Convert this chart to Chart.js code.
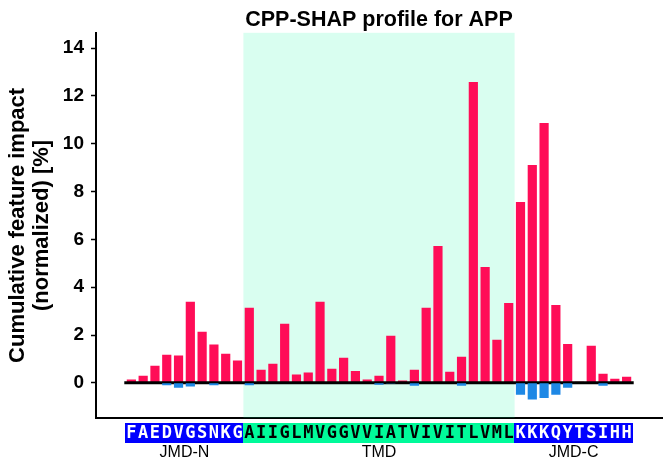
<!DOCTYPE html>
<html>
<head>
<meta charset="utf-8">
<script src="https://cdn.jsdelivr.net/npm/chart.js@4"></script>
<style>
  body { margin: 0; background: #fff; }
</style>
</head>
<body>
<canvas id="shapChart" width="671" height="471"></canvas>
<script>
// residues of APP (JMD-N / TMD / JMD-C)
var residues = "FAEDVGSNKGAIIGLMVGGVVIATVIVITLVMLKKKQYTSIHH".split("");
var regionNames = ["JMD-N", "TMD", "JMD-C"];
var regionLengths = [10, 23, 10];

// positive and negative feature impact per residue [%]
var posImpact = [0.14, 0.30, 0.72, 1.18, 1.14, 3.39, 2.14, 1.60, 1.22, 0.93,
  3.14, 0.55, 0.80, 2.47, 0.35, 0.43, 3.39, 0.59, 1.05, 0.50,
  0.14, 0.30, 1.97, 0.10, 0.55, 3.14, 5.72, 0.46, 1.09, 12.58,
  4.85, 1.80, 3.34,
  7.56, 9.11, 10.87, 3.26, 1.63, 0.05, 1.55, 0.38, 0.17, 0.25];
var negImpact = [0, 0, 0, -0.10, -0.20, -0.15, 0, -0.10, 0, 0,
  -0.10, 0, 0, 0, 0, 0, 0, 0, 0, 0,
  0, -0.08, -0.03, 0, -0.12, 0, 0, 0, -0.12, 0,
  0, 0, 0,
  -0.50, -0.70, -0.63, -0.50, -0.20, 0, 0, -0.12, 0, 0];

var yTicks = [0, 2, 4, 6, 8, 10, 12, 14];

var fontFamily = 'Arial, "Liberation Sans", sans-serif';

// TMD shading behind the bars
var tmdShade = {
  id: "tmdShade",
  beforeDatasetsDraw: function (chart) {
    var ctx = chart.ctx, x = chart.scales.x, area = chart.chartArea;
    var start = regionLengths[0] - 0.5;
    var end = start + regionLengths[1];
    ctx.save();
    ctx.fillStyle = "rgba(0, 250, 154, 0.15)";
    var x0 = x.getPixelForValue(start), x1 = x.getPixelForValue(end);
    ctx.fillRect(x0, area.top, x1 - x0, area.bottom - area.top);
    ctx.restore();
  }
};

// zero line, drawn after the positive bars and before the negative ones
var zeroLine = {
  id: "zeroLine",
  afterDatasetDraw: function (chart, args) {
    if (args.index !== 1) return;
    var ctx = chart.ctx, x = chart.scales.x, y = chart.scales.y;
    ctx.save();
    ctx.strokeStyle = "#000";
    ctx.lineWidth = 3;
    ctx.beginPath();
    ctx.moveTo(x.getPixelForValue(-0.6), y.getPixelForValue(0));
    ctx.lineTo(x.getPixelForValue(residues.length - 0.4), y.getPixelForValue(0));
    ctx.stroke();
    ctx.restore();
  }
};

// sequence boxes and region names under the x axis
var seqLabels = {
  id: "seqLabels",
  afterDraw: function (chart) {
    var ctx = chart.ctx, x = chart.scales.x, bottom = chart.chartArea.bottom;
    ctx.save();
    var idx = 0;
    for (var r = 0; r < regionNames.length; r++) {
      var isTmd = regionNames[r] === "TMD";
      var first = idx;
      for (var k = 0; k < regionLengths[r]; k++, idx++) {
        var x0 = x.getPixelForValue(idx - 0.5), x1 = x.getPixelForValue(idx + 0.5);
        ctx.fillStyle = isTmd ? "#00fa9a" : "#0000ff";
        ctx.fillRect(Math.floor(x0), bottom + 5, Math.ceil(x1) - Math.floor(x0), 20);
      }
      idx = first;
      for (var k = 0; k < regionLengths[r]; k++, idx++) {
        ctx.fillStyle = isTmd ? "#000" : "#fff";
        ctx.font = 'bold 17px "DejaVu Sans Mono", monospace';
        ctx.textAlign = "center";
        ctx.textBaseline = "middle";
        ctx.fillText(residues[idx], x.getPixelForValue(idx), bottom + 15.5);
      }
      var mid = first + (regionLengths[r] - 1) / 2;
      ctx.fillStyle = "#000";
      ctx.font = "16px " + fontFamily;
      ctx.textAlign = "center";
      ctx.textBaseline = "middle";
      ctx.fillText(regionNames[r], x.getPixelForValue(mid), bottom + 35);
    }
    ctx.restore();
  }
};

var ctx = document.getElementById("shapChart").getContext("2d");
var shapChart = new Chart(ctx, {
  type: "bar",
  data: {
    datasets: [
      {
        label: "negative",
        data: negImpact.map(function (v, i) { return { x: i, y: v }; }),
        backgroundColor: "#1e88e5",
        grouped: false,
        barPercentage: 0.78,
        categoryPercentage: 1,
      },
      {
        label: "positive",
        data: posImpact.map(function (v, i) { return { x: i, y: v }; }),
        backgroundColor: "#ff0d57",
        grouped: false,
        barPercentage: 0.78,
        categoryPercentage: 1,
      },
    ],
  },
  options: {
    responsive: false,
    animation: false,
    layout: { padding: { right: 9 } },
    plugins: {
      legend: { display: false },
      tooltip: { enabled: false },
      title: {
        display: true,
        fullSize: false,
        text: "CPP-SHAP profile for APP",
        color: "#000",
        font: { family: fontFamily, size: 21.5, weight: "bold", lineHeight: 1.2 },
        padding: { top: 7, bottom: 0 },
      },
    },
    scales: {
      x: {
        type: "linear",
        offset: false,
        min: -3,
        max: residues.length + 2,
        grid: { display: false },
        ticks: { display: false },
        border: { display: true, color: "#000", width: 2 },
        afterFit: function (scale) { scale.height = 53; },
      },
      y: {
        min: -1.47,
        max: 14.64,
        afterBuildTicks: function (axis) {
          axis.ticks = yTicks.map(function (v) { return { value: v }; });
        },
        grid: { drawOnChartArea: false, tickLength: 5, color: "#000", tickWidth: 1.5 },
        border: { display: true, color: "#000", width: 2 },
        ticks: {
          color: "#000",
          padding: 7,
          font: { family: fontFamily, size: 19, weight: "bold" },
        },
        title: {
          display: true,
          text: ["Cumulative feature impact", "(normalized) [%]"],
          color: "#000",
          font: { family: fontFamily, size: 22, weight: "bold", lineHeight: 1.1 },
          padding: { top: 6, bottom: 0 },
        },
        afterFit: function (scale) { scale.width = 96; },
      },
    },
  },
  plugins: [tmdShade, zeroLine, seqLabels],
});
</script>
</body>
</html>
